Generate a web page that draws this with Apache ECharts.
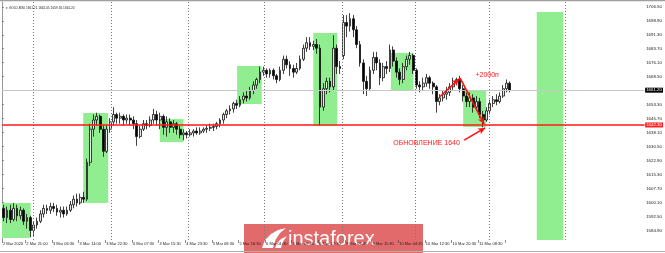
<!DOCTYPE html>
<html><head><meta charset="utf-8">
<script src="https://cdn.jsdelivr.net/npm/echarts@6/dist/echarts.min.js"></script>
<style>html,body{margin:0;padding:0;background:#fff;overflow:hidden}#c{width:665px;height:253px}</style>
</head><body><div id="c"></div>
<script>
// GOLD, one bar per hour: [open, close, low, high]
const bars2Mar = [[1597,1592,1590,1599],[1592,1596,1589,1598],[1596,1591,1589,1599],[1591,1597,1590,1600],[1597,1593,1590,1599],[1593,1596,1591,1598],[1596,1590,1588,1597],[1590,1592,1586,1594],[1592,1585,1581.5,1593],[1585,1588,1582,1590]];
const bars3Mar = [[1588,1590,1586,1592],[1590,1594,1589,1596],[1594,1597,1592,1599],[1597,1596,1594,1599],[1596,1598,1594,1600],[1598,1597,1595,1600],[1597,1595,1593,1599],[1595,1596,1592,1598],[1596,1594,1592,1598],[1594,1596,1593,1598],[1596,1599,1595,1601],[1599,1602,1597,1604],[1602,1600,1598,1605],[1600,1603,1599,1605],[1603,1602,1600,1606],[1602,1622,1601,1624],[1622,1640,1620,1643],[1640,1645,1636,1648],[1645,1647,1642,1649],[1647,1640,1638,1648],[1640,1628,1625,1642],[1628,1640,1627,1642],[1640,1644,1638,1646]];
const bars4Mar = [[1644,1648,1642,1652],[1648,1646,1643,1649],[1646,1647,1643,1649],[1647,1645,1642,1648],[1645,1646,1643,1648],[1646,1645,1642,1648],[1645,1643,1640,1647],[1643,1636,1631,1645],[1636,1640,1635,1642],[1640,1643,1639,1645],[1643,1642,1640,1645],[1642,1645,1641,1647],[1645,1648,1643,1651],[1648,1645,1642,1650],[1645,1647,1640,1649],[1647,1641,1637,1648],[1641,1644,1636,1647],[1644,1641,1638,1646],[1641,1643,1638,1645],[1643,1640,1637,1644],[1640,1637,1635,1642],[1637,1638,1634,1640],[1638,1637,1635,1639]];
const bars5Mar = [[1637,1638,1636,1640],[1638,1639,1636,1640],[1639,1638,1637,1641],[1638,1639,1637,1641],[1639,1640,1638,1641],[1640,1640.5,1638,1642],[1640.5,1641,1639,1643],[1641,1641.5,1639,1643],[1641.5,1643,1640,1644],[1643,1645,1641,1646],[1645,1648,1643,1649],[1648,1650,1646,1651],[1650,1651,1648,1653],[1651,1654,1649,1655],[1654,1653,1651,1656],[1653,1656,1652,1658],[1656,1658,1654,1660],[1658,1657,1655,1661],[1657,1661,1656,1663],[1661,1664,1659,1666],[1664,1667,1662,1668],[1667,1671,1665,1674],[1671,1672,1669,1674]];
const bars6Mar = [[1672,1670,1668,1673],[1670,1672,1668,1673],[1672,1669,1667,1673],[1669,1667,1665,1670],[1667,1672,1666,1674],[1672,1678,1670,1680],[1678,1675,1673,1680],[1675,1673,1669,1677],[1673,1671,1668,1675],[1671,1673,1670,1676],[1673,1678,1672,1680],[1678,1684,1677,1686],[1684,1687,1682,1690],[1687,1685,1683,1690],[1685,1686,1683,1688],[1686,1684,1681,1689],[1684,1652,1642,1686],[1652,1662,1650,1665],[1662,1666,1659,1668],[1666,1663,1660,1668],[1663,1684,1661,1691],[1684,1674,1670,1686],[1674,1673,1670,1677]];
const bars9Mar = [[1680,1698,1678,1702],[1698,1696,1690,1702],[1696,1700,1693,1703],[1700,1694,1690,1702],[1694,1686,1684,1696],[1686,1676,1674,1688],[1676,1666,1659,1678],[1666,1662,1658,1669],[1662,1672,1661,1674],[1672,1679,1670,1682],[1679,1676,1672,1682],[1676,1668,1664,1678],[1668,1674,1666,1676],[1674,1673,1670,1677],[1673,1683,1671,1686],[1683,1677,1674,1685],[1677,1671,1668,1679],[1671,1667,1664,1673],[1667,1674,1665,1676],[1674,1678,1672,1680],[1678,1680,1675,1682],[1680,1672,1670,1681]];
const bars10Mar = [[1672,1664,1662,1673],[1664,1663,1660,1666],[1663,1665,1661,1668],[1665,1668,1663,1670],[1668,1665,1662,1669],[1665,1663,1659,1666],[1663,1655,1649,1664],[1655,1657,1653,1659],[1657,1659,1655,1661],[1659,1660,1656,1663],[1660,1663,1658,1665],[1663,1666,1661,1668],[1666,1667,1664,1668],[1667,1662,1660,1669],[1662,1658,1655,1664],[1658,1655,1652,1660],[1655,1657,1652,1660],[1657,1652,1649,1659],[1652,1655,1650,1658],[1655,1648,1646,1657],[1648,1645,1641,1650],[1645,1650,1644,1652]];
const bars11Mar = [[1650,1654,1648,1656],[1654,1656,1652,1658],[1656,1655,1653,1659],[1655,1658,1654,1660],[1658,1662,1657,1664],[1662,1665,1660,1667],[1665,1661.2,1660,1666]];

const totalSlots = 193;            // bars incl. empty future space
const priceMin = 1579.83, priceMax = 1709.09;
const yTicks = [1706.5,1698.9,1691.3,1683.7,1676.1,1668.5,1660.9,1653.3,1645.7,1638.1,1630.5,1622.9,1615.3,1607.7,1600.1,1592.5,1584.9];
const xTickPos = [0,7,15,23,31,39,47,55,63,71,79,87,95,103,111,119,127,135,143,151];
const xTickLabels = ['2 Mar 2020','2 Mar 21:00','3 Mar 06:30','3 Mar 14:00','3 Mar 22:30','4 Mar 07:30','4 Mar 15:30','4 Mar 23:30','5 Mar 08:30','5 Mar 16:30','6 Mar 01:30','6 Mar 09:30','6 Mar 17:30','9 Mar 03:30','9 Mar 11:30','10 Mar 04:30','10 Mar 12:30','10 Mar 20:30','11 Mar 08:30',''];
const dayLines = [9.5,32.8,56,78.9,102.2,124.2,146.3,169.2];
// [xStart, xEnd, priceTop, priceBottom]
const greenBoxes = [[0,8.6,1599.9,1580.9],[24.4,31.9,1648.8,1599.9],[47.4,54.5,1645.5,1633.0],[70.6,78.0,1674.3,1653.7],[93.5,100.7,1692.3,1641.7],[116.8,123.6,1681.4,1661.3],[138.5,145.4,1660.8,1641.2],[160.6,168.6,1703.7,1579.83]];
const supportLevel = 1642.3;
const lastPrice = 1661.2;
const arrows = [[[131.4,1657.5],[137.3,1667.3]],[[137.6,1667.8],[144.8,1642.8]],[[138.8,1634.1],[145.1,1640.7]]];
const notes = [{text:'+2000п', at:[145.7,1669.4]},{text:'ОБНОВЛЕНИЕ 1640', at:[127.5,1632.5]}];

const allBars = [].concat(bars2Mar,bars3Mar,bars4Mar,bars5Mar,bars6Mar,bars9Mar,bars10Mar,bars11Mar);
const candleData = allBars.map((b,i)=>[i+0.5,b[0],b[1],b[2],b[3]]);

const chart = echarts.init(document.getElementById('c'));
const F = 'Liberation Sans, Arial, sans-serif';
chart.setOption({
  animation:false,
  backgroundColor:'#fff',
  title:{text:'▾ GOLD,M30 1661.21 1662.05 1659.56 1661.20',left:1,top:2,textStyle:{fontSize:3.2,fontWeight:'normal',color:'#222',fontFamily:F}},
  grid:{left:0,right:17,top:2,bottom:13},
  xAxis:{type:'value',min:0,max:totalSlots,
    axisLine:{show:false},splitLine:{show:false},
    axisTick:{show:true,customValues:xTickPos,length:3,lineStyle:{color:'#444',width:0.6}},
    axisLabel:{customValues:xTickPos,align:'left',margin:2,padding:[0,0,0,1],fontSize:4,color:'#222',fontFamily:F,
      formatter:v=>{const k=xTickPos.indexOf(v);return k>=0?xTickLabels[k]:'';}}},
  yAxis:{type:'value',position:'right',min:priceMin,max:priceMax,scale:true,
    axisLine:{show:true,lineStyle:{color:'#999',width:1}},splitLine:{show:false},
    axisTick:{show:true,customValues:yTicks,length:2,lineStyle:{color:'#555',width:0.6}},
    axisLabel:{customValues:yTicks,margin:1.5,fontSize:4.4,color:'#222',fontFamily:F,formatter:v=>v.toFixed(2)}},
  series:[
    {type:'line',data:[],z:1,silent:true,
      markArea:{silent:true,itemStyle:{color:'#90ee90'},
        data:greenBoxes.map(b=>[{coord:[b[0],b[2]]},{coord:[b[1],b[3]]}])},
      markLine:{silent:true,symbol:'none',label:{show:false},
        lineStyle:{type:[1,2],color:'#7a7a7a',width:1},
        data:dayLines.map(v=>({xAxis:v}))}},
    {type:'line',data:[],z:2,silent:true,
      markLine:{silent:true,symbol:'none',
        data:[{yAxis:lastPrice,lineStyle:{color:'#c8c8c8',width:1,type:'solid'},
          label:{show:true,position:'end',distance:0.5,formatter:lastPrice.toFixed(2),fontSize:4.4,color:'#fff',backgroundColor:'#000',padding:[0.5,1],fontFamily:F}}]}},
    {type:'candlestick',data:candleData,z:3,barWidth:2.3,
      itemStyle:{color:'#e8e8e8',color0:'#000',borderColor:'#111',borderColor0:'#111',borderWidth:0.8}},
    {type:'line',data:[],z:4,silent:true,
      markLine:{silent:true,symbol:'none',
        data:[{yAxis:supportLevel,lineStyle:{color:'#ff1a1a',width:1.6,type:'solid'},
          label:{show:true,position:'end',distance:0.5,formatter:'1642.30',fontSize:4.4,color:'#fff',backgroundColor:'#ff2020',padding:[0.5,1],fontFamily:F}}]}},
    {type:'line',data:[],z:5,silent:true,
      markLine:{silent:true,symbol:['none','arrow'],symbolSize:[5,7],label:{show:false},
        lineStyle:{color:'#ff1010',width:1.6,type:'solid'},
        data:arrows.map(a=>[{coord:a[0]},{coord:a[1]}])},
      markPoint:{silent:true,symbol:'circle',symbolSize:0,
        data:notes.map(n=>({coord:n.at,label:{show:true,position:'inside',formatter:n.text,color:'#ff1a1a',fontSize:7,fontFamily:F}}))}}
  ],
  graphic:[
    {type:'rect',shape:{x:0,y:0,width:665,height:1.2},style:{fill:'#a0a0a0'},z:50},
    {type:'rect',shape:{x:0,y:251,width:665,height:1},style:{fill:'#b0b0b0'},z:50},
    {type:'group',z:100,children:[
      {type:'rect',shape:{x:244,y:224,width:179,height:29},style:{fill:'#e36a6a'}},
      {type:'polygon',shape:{points:[[262,248],[265,240],[271,234],[278,230],[286,228],[280,233],[276,239],[274,244],[273,248]]},style:{fill:'#fff'}},
      {type:'polygon',shape:{points:[[275,248],[277,243],[281,239],[287,236],[284,240],[282,244],[281,248]]},style:{fill:'#fff'}},
      {type:'text',style:{x:288,y:239,text:'instaforex',fill:'#fff',font:'20px Liberation Sans, Arial, sans-serif',verticalAlign:'middle'}}
    ]}
  ]
});
</script></body></html>
